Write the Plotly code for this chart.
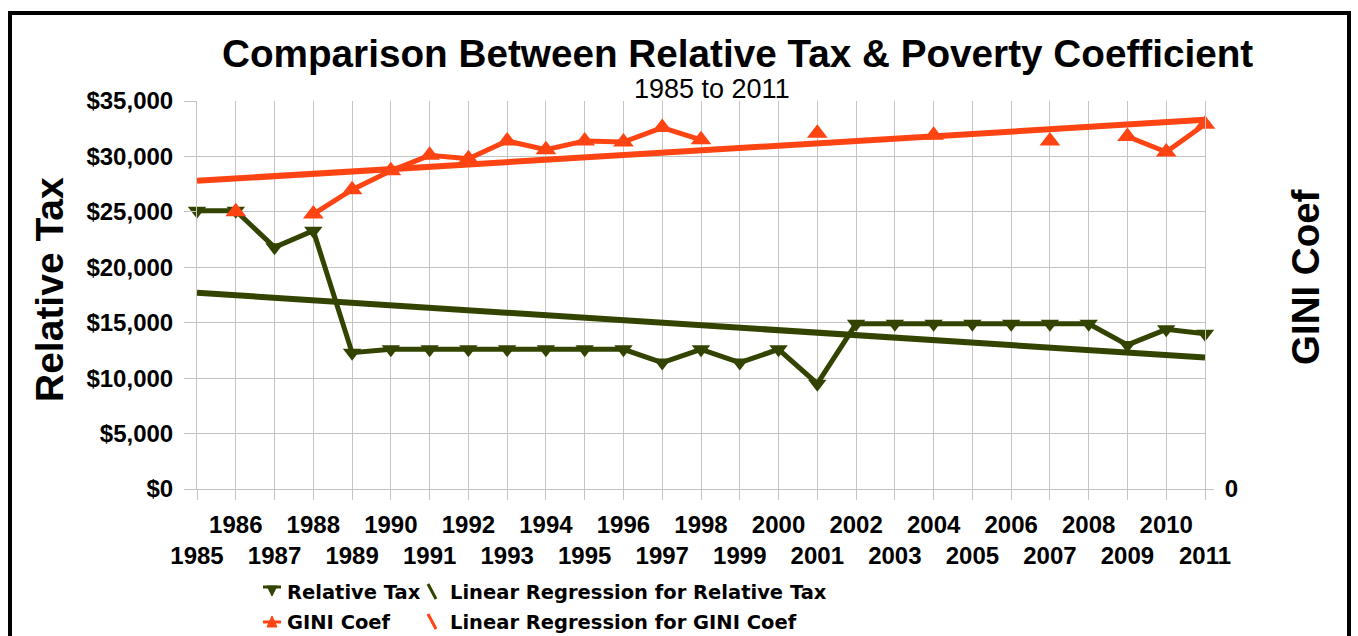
import plotly.graph_objects as go

years = list(range(1985, 2012))
relative_tax = [25100, 25100, 21800, 23300, 12300, 12600, 12600, 12600, 12600, 12600,
                12600, 12600, 11400, 12600, 11400, 12600, 9500, 14900, 14900, 14900,
                14900, 14900, 14900, 14900, 13000, 14400, 14000]
gini_coef = [None, 25000, None, 24800, 27000, 28700, 30100, 29800, 31400, 30600,
             31400, 31300, 32600, 31500, None, None, 32100, None, None, 31900,
             None, None, 31400, None, 31800, 30400, 32900]
reg_years = [1985, 2011]
reg_relative_tax = [17700, 11850]
reg_gini = [27800, 33300]

y_ticks = [0, 5000, 10000, 15000, 20000, 25000, 30000, 35000]
y_ticktext = ["$0", "$5,000", "$10,000", "$15,000", "$20,000", "$25,000", "$30,000", "$35,000"]
x_ticktext = [str(y) if y % 2 == 0 else "<br>" + str(y) for y in years]

GREEN = "#334400"
ORANGE = "#ff4413"
GRID = "#c4c4c4"
FONT = "Liberation Sans, Arial, sans-serif"

W, H = 1358, 636
L, R, T, B = 197, 153, 101, 147
PW, PH = W - L - R, H - T - B


def px(x):
    return (x - L) / PW


def py(y):
    return (H - B - y) / PH


fig = go.Figure()
fig.add_trace(go.Scatter(x=reg_years, y=reg_relative_tax, mode="lines",
                         line=dict(color=GREEN, width=6), cliponaxis=False,
                         name="Linear Regression for Relative Tax", showlegend=False))
fig.add_trace(go.Scatter(x=years, y=relative_tax, mode="lines+markers",
                         line=dict(color=GREEN, width=5),
                         marker=dict(symbol="triangle-down", size=16, color=GREEN),
                         cliponaxis=False, name="Relative Tax", showlegend=False))
fig.add_trace(go.Scatter(x=reg_years, y=reg_gini, mode="lines", yaxis="y2",
                         line=dict(color=ORANGE, width=6), cliponaxis=False,
                         name="Linear Regression for GINI Coef", showlegend=False))
fig.add_trace(go.Scatter(x=years, y=gini_coef, mode="lines+markers", yaxis="y2",
                         line=dict(color=ORANGE, width=5), connectgaps=False,
                         marker=dict(symbol="triangle-up", size=18, color=ORANGE),
                         cliponaxis=False, name="GINI Coef", showlegend=False))

annotations = [
    dict(text="<b>Comparison Between Relative Tax & Poverty Coefficient</b>",
         x=px(737), y=py(54), xref="paper", yref="paper", showarrow=False,
         xanchor="center", yanchor="middle", font=dict(family=FONT, size=38.7, color="black")),
    dict(text="1985 to 2011", x=px(712), y=py(89), xref="paper", yref="paper",
         showarrow=False, xanchor="center", yanchor="middle",
         font=dict(family=FONT, size=27, color="black")),
    dict(text="<b>Relative Tax</b>", x=px(49), y=py(290), xref="paper", yref="paper",
         showarrow=False, textangle=-90, xanchor="center", yanchor="middle",
         font=dict(family=FONT, size=39, color="black")),
    dict(text="<b>GINI Coef</b>", x=px(1305), y=py(277), xref="paper", yref="paper",
         showarrow=False, textangle=-90, xanchor="center", yanchor="middle",
         font=dict(family=FONT, size=38.5, color="black")),
]

LEG_FONT = dict(family="DejaVu Sans, sans-serif", size=19.5, color="black")
legend_items = [
    ("Relative Tax", 285, 592), ("GINI Coef", 285, 622),
    ("Linear Regression for Relative Tax", 448, 592),
    ("Linear Regression for GINI Coef", 448, 622),
]
for txt, lx, ly in legend_items:
    annotations.append(dict(text="<b>" + txt + "</b>", x=px(lx), y=py(ly), xref="paper",
                            yref="paper", showarrow=False, xanchor="left", yanchor="middle",
                            font=LEG_FONT))

shapes = [
    # outer frame
    dict(type="rect", xref="paper", yref="paper", x0=px(10), x1=px(1349), y0=py(680), y1=py(13),
         line=dict(color="black", width=4), fillcolor="rgba(0,0,0,0)", layer="below"),
    # legend symbols
    dict(type="line", xref="paper", yref="paper", x0=px(263), x1=px(281), y0=py(587), y1=py(587),
         line=dict(color=GREEN, width=3)),
    dict(type="path", xref="paper", yref="paper",
         path=f"M {px(267)},{py(586)} L {px(277)},{py(586)} L {px(272)},{py(596)} Z",
         fillcolor=GREEN, line=dict(color=GREEN, width=1)),
    dict(type="line", xref="paper", yref="paper", x0=px(263), x1=px(281), y0=py(622), y1=py(622),
         line=dict(color=ORANGE, width=3)),
    dict(type="path", xref="paper", yref="paper",
         path=f"M {px(267)},{py(627)} L {px(277)},{py(627)} L {px(272)},{py(616)} Z",
         fillcolor=ORANGE, line=dict(color=ORANGE, width=1)),
    dict(type="line", xref="paper", yref="paper", x0=px(428), x1=px(436), y0=py(584), y1=py(599),
         line=dict(color=GREEN, width=3)),
    dict(type="line", xref="paper", yref="paper", x0=px(428), x1=px(436), y0=py(614), y1=py(629),
         line=dict(color=ORANGE, width=3)),
]

fig.update_layout(
    width=W, height=H, autosize=False,
    margin=dict(l=L, r=R, t=T, b=B, pad=0),
    paper_bgcolor="white", plot_bgcolor="white",
    showlegend=False,
    font=dict(family=FONT, color="black"),
    xaxis=dict(range=[1985, 2011], tickvals=years, ticktext=x_ticktext,
               tickfont=dict(family=FONT, size=24, color="black", weight="bold"),
               showgrid=True, gridcolor=GRID, gridwidth=1,
               ticks="outside", ticklen=10, tickcolor=GRID, ticklabelstandoff=4,
               showline=True, linecolor=GRID, linewidth=1, zeroline=False, tickangle=0),
    yaxis=dict(range=[0, 35000], tickvals=y_ticks, ticktext=y_ticktext,
               tickfont=dict(family=FONT, size=24, color="black", weight="bold"),
               showgrid=True, gridcolor=GRID, gridwidth=1,
               ticks="outside", ticklen=12, tickcolor=GRID, ticklabelstandoff=6,
               showline=True, linecolor=GRID, linewidth=1, zeroline=False),
    yaxis2=dict(range=[0, 35000], overlaying="y", side="right", tickvals=[0], ticktext=["0"],
                tickfont=dict(family=FONT, size=24, color="black", weight="bold"),
                showgrid=False, ticks="outside", ticklen=8, tickcolor=GRID, ticklabelstandoff=6,
                showline=True, linecolor=GRID, linewidth=1, zeroline=False),
    annotations=annotations,
    shapes=shapes,
)

fig.write_html("out.html")
